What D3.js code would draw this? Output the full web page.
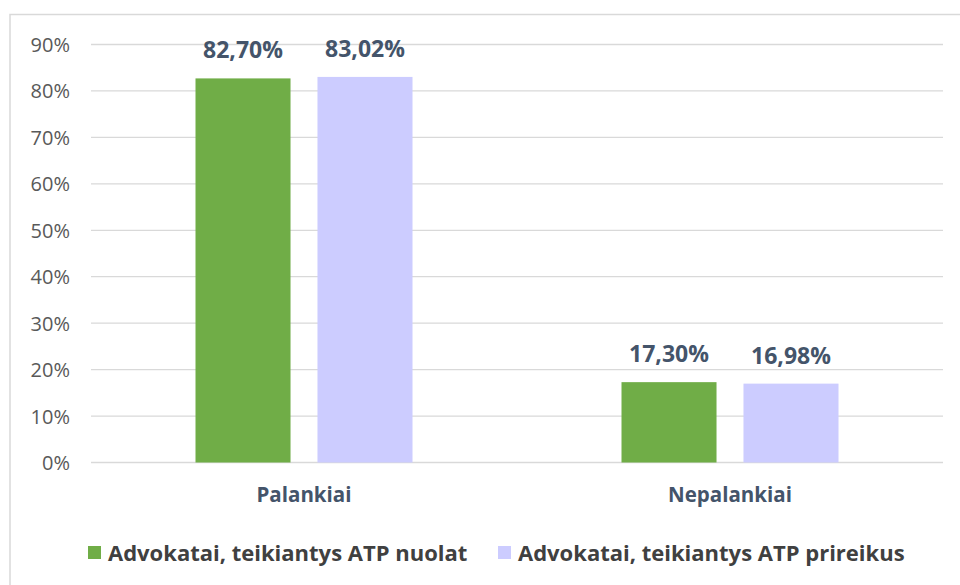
<!DOCTYPE html>
<html><head><meta charset="utf-8">
<script src="https://cdn.jsdelivr.net/npm/d3@7"></script>
<style>body{margin:0;background:#fff}svg{display:block}</style>
</head><body><svg id="c" width="960" height="585"></svg>
<script>
const categories = ["Palankiai", "Nepalankiai"];
const seriesNames = ["Advokatai, teikiantys ATP nuolat", "Advokatai, teikiantys ATP prireikus"];
const seriesNuolat = [82.70, 17.30];
const seriesPrireikus = [83.02, 16.98];
const valueLabels = [["82,70%", "17,30%"], ["83,02%", "16,98%"]];
const yTicks = [0, 10, 20, 30, 40, 50, 60, 70, 80, 90];
const colors = ["#70AD47", "#CCCCFF"];

const svg = d3.select("#c");
const font = "'Open Sans', 'Noto Sans', sans-serif";
// chart border
svg.append("rect").attr("x", 10).attr("y", 14.5).attr("width", 960).attr("height", 600)
  .attr("fill", "none").attr("stroke", "#d9d9d9").attr("stroke-width", 1.5);

const x0 = d3.scaleBand().domain(categories).range([91, 943]);
const x1 = d3.scaleBand().domain([0, 1]).range([0, 217]).paddingInner(0.221);
const y = d3.scaleLinear().domain([0, 90]).range([462.5, 44.5]);

const grid = svg.append("g");
grid.selectAll("line").data(yTicks).join("line")
  .attr("x1", 91).attr("x2", 943).attr("y1", d => y(d)).attr("y2", d => y(d))
  .attr("stroke", "#d9d9d9").attr("stroke-width", 1.3);

const yAxis = d3.axisLeft(y).tickValues(yTicks).tickFormat(d => d + "%").tickSize(0).tickPadding(0);
const ya = svg.append("g").attr("transform", "translate(70,0)").call(yAxis);
ya.select(".domain").remove();
ya.selectAll("text").attr("font-family", font).attr("font-size", 20).attr("fill", "#595959").attr("dy", "0.35em");

const data = [seriesNuolat, seriesPrireikus];
categories.forEach((c, ci) => {
  const gx = x0(c) + x0.bandwidth() / 2 - 108.5;
  data.forEach((s, si) => {
    const bx = gx + x1(si);
    svg.append("rect").attr("x", bx).attr("y", y(s[ci])).attr("width", x1.bandwidth())
      .attr("height", y(0) - y(s[ci])).attr("fill", colors[si]);
    svg.append("text").attr("x", bx + x1.bandwidth() / 2).attr("y", y(s[ci]) - 20)
      .attr("text-anchor", "middle").attr("font-family", font).attr("font-weight", 700)
      .attr("font-size", 23).attr("fill", "#44546A").text(valueLabels[si][ci]);
  });
  svg.append("text").attr("x", x0(c) + x0.bandwidth() / 2).attr("y", 502)
    .attr("text-anchor", "middle").attr("font-family", font).attr("font-weight", 700)
    .attr("font-size", 20.5).attr("fill", "#44546A").text(c);
});

// legend
const legX = [88, 498];
seriesNames.forEach((n, i) => {
  svg.append("rect").attr("x", legX[i]).attr("y", 546).attr("width", 13).attr("height", 13).attr("fill", colors[i]);
  svg.append("text").attr("x", legX[i] + 20).attr("y", 561).attr("font-family", font).attr("font-weight", 700)
    .attr("font-size", 22).attr("fill", "#404040").text(n);
});
</script></body></html>
